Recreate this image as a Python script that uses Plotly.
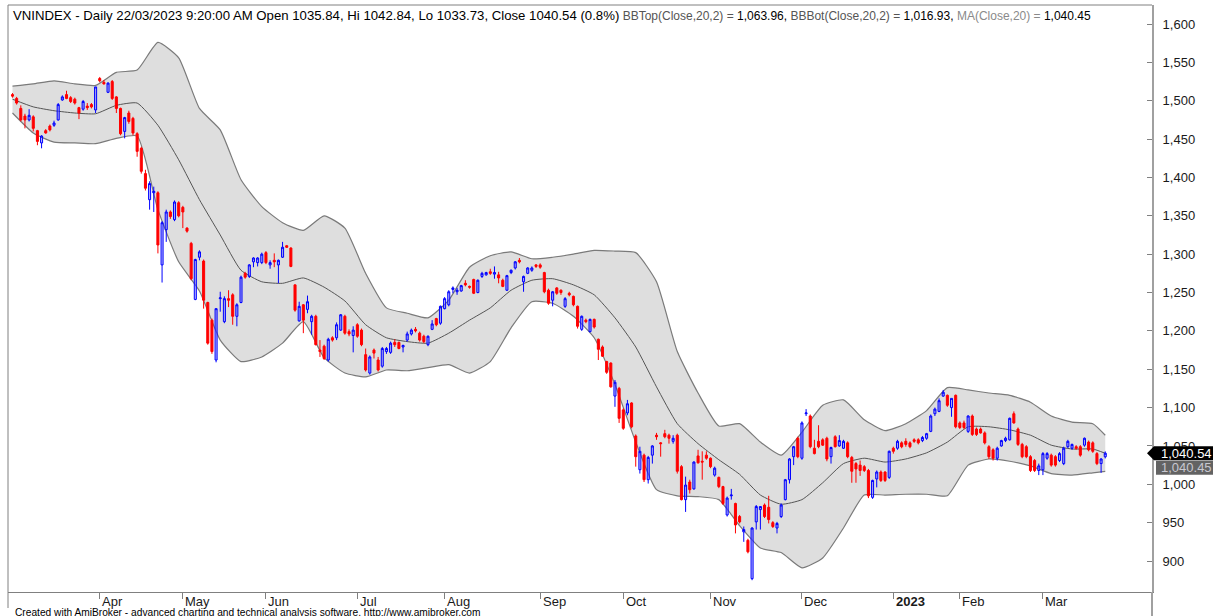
import plotly.graph_objects as go

# ---------------- data ----------------
open_ = [1508,1503,1490,1480,1475,1479,1461,1445,1461,1467,1468,1475,1501,1508,1504,1502,1491,1489,1493,1495,
         1488,1529,1524,1511,1525,1505,1490,1460,1484,1477,1457,1438,1405,1371,1380,1380,1286,1332,1355,1345,
         1367,1361,1334,1314,1241,1296,1291,1237,1214,1162,1242,1212,1242,1247,1219,1237,1275,1271,1290,1289,
         1289,1302,1286,1292,1286,1296,1311,1308,1260,1213,1234,1228,1212,1219,1175,1180,1162,1191,1191,1201,
         1219,1199,1194,1208,1201,1169,1145,1175,1162,1154,1173,1172,1185,1185,1179,1188,1196,1202,1197,1193,
         1182,1202,1216,1210,1229,1234,1254,1251,1252,1262,1258,1267,1250,1271,1273,1277,1274,1273,1266,1253,
         1276,1282,1292,1264,1275,1279,1286,1286,1276,1253,1240,1256,1253,1232,1249,1245,1232,1202,1214,1199,
         1215,1189,1179,1160,1158,1115,1125,1097,1093,1106,1063,1019,1038,1006,1038,1064,1054,1066,1064,1056,
         1064,1023,980,1003,994,1037,1030,1038,1034,1012,1009,997,960,985,975,958,938,927,877,951,
         967,973,970,950,943,958,980,1006,1036,1060,1034,1092,1089,1047,1056,1058,1060,1036,1062,1050,
         1047,1054,1035,1027,1025,1023,1018,983,1007,1016,1016,1009,1047,1047,1054,1056,1054,1058,1058,1057,
         1060,1069,1092,1095,1115,1116,1100,1116,1080,1080,1069,1089,1072,1072,1067,1049,1045,1034,1050,1057,
         1058,1092,1072,1052,1049,1036,1031,1018,1019,1034,1038,1036,1031,1027,1049,1047,1049,1049,1051,1055,
         1054,1040,1027,1035.84]
high = [1510,1505,1494,1483,1489,1481,1462,1455,1463,1469,1474,1497,1507,1513,1506,1504,1492,1501,1497,1497,
        1518,1531,1527,1524,1527,1506,1491,1479,1487,1479,1459,1440,1410,1395,1388,1382,1343,1358,1357,1370,
        1369,1363,1335,1316,1294,1305,1293,1238,1216,1229,1251,1245,1253,1249,1236,1272,1277,1287,1296,1296,
        1302,1304,1292,1301,1293,1316,1312,1309,1260,1238,1235,1246,1221,1221,1188,1182,1191,1193,1211,1222,
        1221,1202,1206,1210,1203,1177,1168,1177,1166,1179,1179,1186,1189,1186,1182,1199,1203,1205,1199,1195,
        1194,1214,1217,1233,1244,1253,1258,1256,1260,1266,1259,1268,1267,1277,1277,1281,1284,1277,1268,1273,
        1280,1291,1295,1272,1283,1284,1287,1288,1277,1255,1252,1257,1254,1244,1251,1246,1233,1220,1216,1216,
        1216,1190,1181,1161,1159,1136,1127,1099,1110,1107,1065,1049,1040,1037,1051,1067,1055,1071,1066,1064,
        1066,1025,1010,1006,1030,1045,1043,1043,1035,1023,1010,998,984,994,976,960,945,929,944,973,
        971,975,985,952,951,975,1007,1034,1050,1062,1082,1098,1091,1058,1077,1060,1062,1049,1064,1064,
        1058,1056,1037,1029,1031,1025,1020,1006,1018,1018,1017,1044,1049,1058,1056,1060,1056,1060,1060,1063,
        1067,1091,1100,1112,1123,1117,1112,1117,1082,1083,1090,1091,1074,1074,1069,1051,1047,1049,1058,1062,
        1087,1095,1074,1054,1051,1038,1033,1027,1042,1042,1040,1038,1042,1049,1058,1053,1051,1051,1061,1057,
        1056,1042,1034,1042.84]
low = [1504,1495,1473,1464,1473,1460,1442,1438,1457,1460,1466,1474,1500,1502,1497,1495,1476,1487,1488,1490,
       1484,1524,1521,1510,1501,1484,1455,1451,1470,1455,1427,1405,1383,1358,1355,1301,1263,1316,1346,1343,
       1348,1334,1328,1266,1240,1292,1229,1182,1170,1159,1225,1210,1231,1208,1206,1236,1268,1269,1283,1284,
       1287,1287,1281,1283,1262,1295,1308,1283,1225,1212,1197,1223,1195,1181,1166,1162,1160,1186,1188,1200,
       1195,1193,1172,1191,1180,1147,1143,1164,1147,1152,1170,1170,1179,1176,1172,1186,1194,1198,1186,1184,
       1180,1201,1206,1208,1228,1232,1249,1247,1251,1258,1255,1248,1249,1269,1272,1273,1268,1262,1257,1252,
       1274,1280,1288,1251,1274,1277,1282,1281,1249,1234,1232,1247,1247,1230,1245,1232,1203,1200,1210,1198,
       1203,1162,1166,1144,1126,1101,1080,1071,1090,1073,1023,1014,1003,1001,1027,1058,1036,1060,1053,1053,
       1014,979,964,988,993,1027,1006,1032,1021,1010,995,973,958,980,936,949,925,910,875,941,
       941,956,949,943,936,956,979,1001,1025,1034,1032,1089,1047,1039,1047,1050,1030,1027,1048,1049,
       1046,1034,1002,1002,1011,1016,982,981,996,1003,1003,1007,1040,1045,1047,1049,1047,1054,1052,1055,
       1058,1068,1089,1094,1114,1101,1088,1073,1072,1072,1067,1063,1063,1066,1052,1033,1031,1031,1049,1055,
       1057,1079,1050,1034,1034,1016,1016,1012,1012,1032,1023,1023,1029,1025,1047,1045,1045,1036,1049,1043,
       1041,1025,1015,1033.73]
close = [1506,1497,1475,1475,1481,1464,1447,1454,1458,1462,1471,1495,1505,1503,1499,1497,1484,1499,1491,1492,
         1518,1526,1522,1523,1503,1490,1457,1478,1473,1458,1434,1408,1386,1392,1382,1312,1341,1355,1349,1368,
         1350,1355,1330,1268,1293,1303,1240,1184,1173,1229,1243,1242,1240,1219,1234,1270,1270,1286,1295,1295,
         1300,1289,1289,1290,1292,1309,1309,1284,1227,1232,1214,1238,1219,1182,1173,1164,1189,1188,1208,1221,
         1197,1196,1201,1193,1182,1149,1166,1171,1149,1177,1177,1184,1182,1177,1181,1196,1201,1200,1188,1186,
         1193,1209,1208,1232,1242,1251,1256,1253,1259,1260,1257,1249,1266,1275,1276,1275,1276,1269,1258,1272,
         1279,1290,1290,1271,1282,1282,1284,1283,1251,1236,1251,1249,1250,1242,1247,1234,1206,1219,1212,1215,
         1205,1176,1167,1146,1127,1133,1086,1073,1105,1075,1036,1043,1006,1035,1050,1062,1053,1062,1060,1060,
         1017,980,999,993,1029,1028,1029,1034,1023,1021,997,975,982,986,947,951,941,912,943,971,
         971,958,954,945,949,973,1006,1033,1049,1036,1080,1093,1049,1040,1049,1051,1033,1048,1049,1057,
         1056,1036,1017,1020,1018,1018,985,1005,1016,1005,1005,1043,1043,1056,1049,1052,1049,1056,1054,1061,
         1066,1089,1098,1109,1120,1103,1112,1075,1074,1074,1089,1065,1065,1067,1054,1036,1034,1047,1057,1060,
         1086,1080,1052,1036,1036,1018,1018,1024,1040,1040,1025,1025,1040,1047,1056,1052,1047,1038,1060,1045,
         1043,1027,1033,1040.54]
bar = list(range(len(close)))

# Bollinger band / moving average values read at sampled bars
bb_bar = [0,5,10,15,20,25,30,35,40,45,50,55,60,65,70,75,80,85,90,95,100,105,110,115,120,125,130,135,
          140,145,150,155,160,165,170,175,180,185,190,195,200,205,210,215,220,225,230,235,240,245,250,
          255,260,263]
bb_top = [1519,1522,1526,1522,1520,1537,1540,1576,1556,1490,1462,1397,1362,1341,1331,1350,1334,1275,1230,
          1223,1217,1240,1283,1298,1303,1294,1296,1300,1305,1304,1302,1264,1173,1119,1076,1079,1055,1038,
          1068,1103,1110,1084,1070,1079,1096,1126,1123,1119,1116,1107,1089,1081,1079,1063.96]
ma20 = [1502,1492,1487,1484,1483,1494,1497,1468,1423,1371,1325,1279,1264,1262,1269,1257,1239,1208,1191,
        1186,1184,1197,1214,1230,1253,1266,1268,1260,1247,1217,1179,1127,1079,1053,1032,1013,986,974,980,
        1002,1027,1034,1029,1033,1041,1055,1075,1075,1071,1064,1051,1046,1046,1040.45]
bb_bot = [1484,1458,1446,1445,1444,1451,1454,1358,1290,1252,1188,1160,1166,1184,1212,1165,1145,1140,1149,
          1148,1152,1156,1145,1160,1204,1238,1236,1219,1191,1130,1055,993,985,984,980,946,917,911,891,904,
          943,986,986,987,987,985,1025,1033,1030,1024,1014,1012,1015,1016.93]

month_labels = ["Apr", "May", "Jun", "Jul", "Aug", "Sep", "Oct", "Nov", "Dec", "<b>2023</b>", "Feb", "Mar"]
month_bars = [21, 41, 61, 83, 104, 127, 147, 168, 190, 212, 228, 248]

y_ticks = [900, 950, 1000, 1050, 1100, 1150, 1200, 1250, 1300, 1350, 1400, 1450, 1500, 1550, 1600]
y_ticktext = ["900", "950", "1,000", "1,050", "1,100", "1,150", "1,200", "1,250", "1,300", "1,350",
              "1,400", "1,450", "1,500", "1,550", "1,600"]

last_close = 1040.54
last_ma = 1040.45

# ---------------- figure ----------------
W, H = 1222, 616
ML, MR, MT, MB = 8, 70, 5, 24
PW = W - ML - MR
PH = H - MT - MB
FONT = "Liberation Sans, Arial, sans-serif"
ymin, ymax = 859.6, 1624.8
xmin, xmax = -1.08, 274.25


def px_x(px):
    return (px - ML) / PW


def px_y(py):
    return 1 - (py - MT) / PH


fig = go.Figure()
fig.add_trace(go.Scatter(x=bb_bar, y=bb_top, mode="lines", hoverinfo="skip",
                         line=dict(color="#7a7a7a", width=1.2, shape="spline", smoothing=0.5)))
fig.add_trace(go.Scatter(x=bb_bar, y=bb_bot, mode="lines", hoverinfo="skip", fill="tonexty",
                         fillcolor="#dedede",
                         line=dict(color="#7a7a7a", width=1.2, shape="spline", smoothing=0.5)))
fig.add_trace(go.Scatter(x=bb_bar, y=ma20, mode="lines", hoverinfo="skip",
                         line=dict(color="#555555", width=1, shape="spline", smoothing=0.5)))
# candles on an overlaying axis pair so they are drawn above the band fill
fig.add_trace(go.Candlestick(
    x=bar, open=open_, high=high, low=low, close=close, whiskerwidth=0, hoverinfo="skip",
    xaxis="x2", yaxis="y2",
    increasing=dict(line=dict(color="#0000ff", width=1), fillcolor="rgba(110,110,255,0.5)"),
    decreasing=dict(line=dict(color="#ff0000", width=1), fillcolor="#ff0000")))

fig.update_layout(
    width=W, height=H, margin=dict(l=ML, r=MR, t=MT, b=MB, pad=0),
    paper_bgcolor="white", plot_bgcolor="white", showlegend=False,
    font=dict(family=FONT, size=12, color="#000000"),
    xaxis=dict(range=[xmin, xmax], showgrid=False, zeroline=False,
               tickvals=month_bars, ticks="outside", ticklen=6, tickcolor="#808080",
               showticklabels=False, showline=True, linecolor="#808080", linewidth=1),
    yaxis=dict(range=[ymin, ymax], side="right", showgrid=False, zeroline=False,
               tickvals=y_ticks, ticktext=y_ticktext, ticks="inside", ticklen=5, tickcolor="#808080",
               tickfont=dict(family=FONT, size=13, color="#1a1a1a"), ticklabelstandoff=6,
               showline=True, linecolor="#a0a0a0", linewidth=2),
    xaxis2=dict(range=[xmin, xmax], overlaying="x", visible=False, rangeslider=dict(visible=False)),
    yaxis2=dict(range=[ymin, ymax], overlaying="y", visible=False),
)

shapes = []
shapes.append(dict(type="line", xref="paper", yref="paper", x0=0, x1=1, y0=1, y1=1,
                   line=dict(color="#808080", width=1)))
shapes.append(dict(type="line", xref="paper", yref="paper", x0=0, x1=0, y0=1, y1=px_y(608),
                   line=dict(color="#808080", width=1)))
shapes.append(dict(type="line", xref="paper", yref="paper", x0=1, x1=1, y0=0, y1=px_y(618),
                   line=dict(color="#a0a0a0", width=2)))
ppu = PH / (ymax - ymin)          # pixels per price unit
hh = 7.0 / ppu
tip, left, right = px_x(1147), px_x(1154), px_x(1213)
shapes.append(dict(type="path", xref="paper", yref="y", layer="above",
                   path=f"M {tip},{last_close} L {left},{last_close + hh} L {right},{last_close + hh} "
                        f"L {right},{last_close - hh} L {left},{last_close - hh} Z",
                   fillcolor="#000000", line=dict(width=0)))
ma_lab_y = last_close - 14.5 / ppu
shapes.append(dict(type="rect", xref="paper", yref="y", layer="above",
                   x0=px_x(1156), x1=px_x(1213), y0=ma_lab_y - hh, y1=ma_lab_y + hh,
                   fillcolor="#636363", line=dict(width=0)))
fig.update_layout(shapes=shapes)

ann = []
title = ("<span style='font-size:13.2px'>VNINDEX - Daily 22/03/2023 9:20:00 AM Open 1035.84, Hi 1042.84, "
         "Lo 1033.73, Close 1040.54 (0.8%)</span> "
         "<span style='color:#555555'>BBTop(Close,20,2) = </span>1,063.96, "
         "<span style='color:#555555'>BBBot(Close,20,2) = </span>1,016.93, "
         "<span style='color:#8a8a8a'>MA(Close,20) = </span>1,040.45")
ann.append(dict(xref="paper", yref="paper", x=px_x(11), y=px_y(6), xanchor="left", yanchor="top",
                text=title, showarrow=False, font=dict(family=FONT, size=12, color="#000000")))
for lab, b in zip(month_labels, month_bars):
    ann.append(dict(xref="x", yref="paper", x=b + 0.1, y=px_y(592), xanchor="left", yanchor="top",
                    text=lab, showarrow=False, font=dict(family=FONT, size=13, color="#1a1a1a")))
ann.append(dict(xref="paper", yref="paper", x=px_x(13), y=px_y(605), xanchor="left", yanchor="top",
                text="Created with AmiBroker - advanced charting and technical analysis software. http://www.amibroker.com",
                showarrow=False, font=dict(family=FONT, size=10.2, color="#000000")))
ann.append(dict(xref="paper", yref="y", x=px_x(1159), y=last_close, xanchor="left", yanchor="middle",
                text=f"{last_close:,.2f}", showarrow=False, font=dict(family=FONT, size=13, color="#ffffff")))
ann.append(dict(xref="paper", yref="y", x=px_x(1159), y=ma_lab_y, xanchor="left", yanchor="middle",
                text=f"{last_ma:,.2f}", showarrow=False, font=dict(family=FONT, size=13, color="#c8c8d0")))
fig.update_layout(annotations=ann)

fig.write_html("out.html", config={"displayModeBar": False},
               post_script="document.body.style.margin='0';document.body.style.overflow='hidden';")
